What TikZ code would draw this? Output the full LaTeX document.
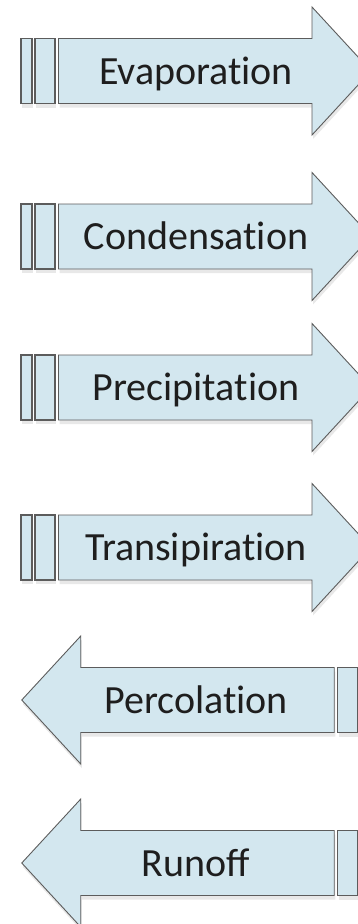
\documentclass[tikz,border=0pt]{standalone}
\usepackage{fontspec}
\setmainfont{Carlito}[Ligatures=NoCommon]
\usepackage{xcolor}
\usepackage{tikz}
\usetikzlibrary{shadows, calc}
\definecolor{cyclefill}{HTML}{D3E7EF}
\definecolor{cycleline}{HTML}{5C5C5C}
\definecolor{cycletext}{HTML}{1E1E1E}
\tikzset{
  % arrow shaft (outline drawn together with the head)
  shaft/.style={rectangle, minimum width=253.5pt, minimum height=65pt,
                inner sep=0pt, outer sep=0pt},
  % tail tabs behind the arrows
  tab/.style={rectangle, draw=cycleline, fill=cyclefill, line width=1.1pt,
              minimum width=#1, minimum height=65pt, inner sep=0pt,
              drop shadow={opacity=0.18, shadow xshift=1pt, shadow yshift=-4pt}},
  % arrow outline
  outline/.style={draw=cycleline, fill=cyclefill, line width=0.9pt,
                  line join=miter,
                  drop shadow={opacity=0.18, shadow xshift=1pt, shadow yshift=-4pt}},
  % process names
  proctext/.style={font=\fontsize{40}{48}\selectfont, text=cycletext,
                   anchor=base, inner sep=0pt},
}

\begin{document}
\begin{tikzpicture}[x=1pt, y=-1pt]

\useasboundingbox (0,0) rectangle (358,924);
\clip (0,0) rectangle (358,924);

% ── Evaporation (y=71) ───────────────────────────────────────────────────────
\node[tab=11pt] (evap-t1) at (26.5, 71) {};
\node[tab=20pt] (evap-t2) at (45,   71) {};
\node[shaft]    (evap)    at (185.25, 71) {};
\draw[outline] (evap.north west) -- (evap.north east) -- ++(0,-31.5)
  -- ($(evap.east)+(59,0)$) -- ($(evap.south east)+(0,31.5)$)
  -- (evap.south east) -- (evap.south west) -- cycle;
\node[proctext] (evap-name) at (196, 84) {Evaporation};

% ── Condensation (y=236.5) ───────────────────────────────────────────────────
\node[tab=11pt] (cond-t1) at (26.5, 236.5) {};
\node[tab=20pt] (cond-t2) at (45,   236.5) {};
\node[shaft]    (cond)    at (185.25, 236.5) {};
\draw[outline] (cond.north west) -- (cond.north east) -- ++(0,-31.5)
  -- ($(cond.east)+(59,0)$) -- ($(cond.south east)+(0,31.5)$)
  -- (cond.south east) -- (cond.south west) -- cycle;
\node[proctext] (cond-name) at (196, 249.5) {Condensation};

% ── Precipitation (y=387.5) ──────────────────────────────────────────────────
\node[tab=11pt] (prec-t1) at (26.5, 387.5) {};
\node[tab=20pt] (prec-t2) at (45,   387.5) {};
\node[shaft]    (prec)    at (185.25, 387.5) {};
\draw[outline] (prec.north west) -- (prec.north east) -- ++(0,-31.5)
  -- ($(prec.east)+(59,0)$) -- ($(prec.south east)+(0,31.5)$)
  -- (prec.south east) -- (prec.south west) -- cycle;
\node[proctext] (prec-name) at (196, 400.5) {Precipitation};

% ── Transipiration (y=547.5) ─────────────────────────────────────────────────
\node[tab=11pt] (tran-t1) at (26.5, 547.5) {};
\node[tab=20pt] (tran-t2) at (45,   547.5) {};
\node[shaft]    (tran)    at (185.25, 547.5) {};
\draw[outline] (tran.north west) -- (tran.north east) -- ++(0,-31.5)
  -- ($(tran.east)+(59,0)$) -- ($(tran.south east)+(0,31.5)$)
  -- (tran.south east) -- (tran.south west) -- cycle;
\node[proctext] (tran-name) at (196, 560.5) {Transipiration};

% ── Percolation (y=700, pointing left) ───────────────────────────────────────
\node[tab=20pt] (perc-t2) at (347.5, 700) {};
\node[shaft]    (perc)    at (207.5, 700) {};
\draw[outline] (perc.north east) -- (perc.north west) -- ++(0,-31.5)
  -- ($(perc.west)+(-59,0)$) -- ($(perc.south west)+(0,31.5)$)
  -- (perc.south west) -- (perc.south east) -- cycle;
\node[proctext] (perc-name) at (196, 713) {Percolation};

% ── Runoff (y=863, pointing left) ────────────────────────────────────────────
\node[tab=20pt] (run-t2) at (347.5, 863) {};
\node[shaft]    (run)    at (207.5, 863) {};
\draw[outline] (run.north east) -- (run.north west) -- ++(0,-31.5)
  -- ($(run.west)+(-59,0)$) -- ($(run.south west)+(0,31.5)$)
  -- (run.south west) -- (run.south east) -- cycle;
\node[proctext] (run-name) at (196, 876) {Ru\addfontfeature{Ligatures=Common}noff};

\end{tikzpicture}
\end{document}
